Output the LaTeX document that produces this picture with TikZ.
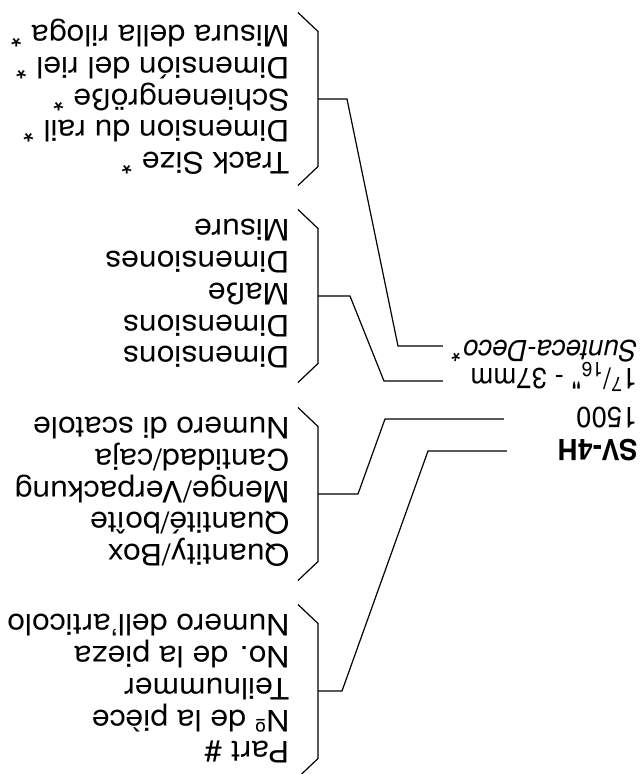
\documentclass[tikz,border=0pt]{standalone}
\usepackage{fontspec}
\setmainfont{TeX Gyre Heros}[FakeStretch=1.08]
\newfontfamily\tagfont{TeX Gyre Heros}[FakeStretch=0.95]
\begin{document}
\begin{tikzpicture}[x=1pt,y=1pt,rotate=180,transform shape,line width=1.2pt,
    every node/.style={inner sep=0pt,font=\fontsize{29.5}{31.75}\selectfont},
    legend/.style={align=left,anchor=west},
    tag/.style={anchor=base west,font=\tagfont\fontsize{29}{31}\selectfont}]
    \useasboundingbox (0,0) rectangle (640,774);
    % the four legends, each with its bracket
    \foreach \n/\m/\lines in {
        size/99/{Track Size *\\Dimension du rail *\\Schienengröße *\\Dimensión del riel *\\Misura della riloga *},
        dim/296/{Dimensions\\Dimensions\\Maße\\Dimensiones\\Misure},
        qty/494/{Quantity/Box\\Quantité/boîte\\Menge/Verpackung\\Cantidad/caja\\Numero di scatole},
        part/691/{Part \#\\Nº de la pièce\\Teilnummer\\No. de la pieza\\Numero dell’articolo}} {
            \node[legend] (\n) at (350,\m-2) {\lines};
            % bracket, open towards the text
            \coordinate (\n-br) at (322,\m);
            \draw (342,\m-86.5) -- (322,\m-67.5) -- (322,\m+67.5) -- (342,\m+86.5);
    }
    % the product tag
    \node[tag] (sv) at (2,439) {\bfseries SV-4H};
    \node[tag] (box) at (2,407) {1500};
    \node[tag] (gauge) at (2,368) {1\textsuperscript{7}/\textsubscript{16}" - 37mm};
    \node[tag] (deco) at (2,340) {\itshape Sunteca-Deco*};
    \coordinate (sv-end) at (133,451);
    \coordinate (box-end) at (136,419);
    \coordinate (gauge-end) at (197,381);
    \coordinate (deco-end) at (197,346);
    % leaders from each bracket to its value
    \draw (size-br) -- ++(-29,0) -- ([xshift=45]deco-end) -- (deco-end);
    \draw (dim-br) -- ++(-32,0) -- ([xshift=59]gauge-end) -- (gauge-end);
    \draw (qty-br) -- ++(-40,0) -- ([xshift=119]box-end) -- (box-end);
    \draw (part-br) -- ++(-24,0) -- ([xshift=79]sv-end) -- (sv-end);
\end{tikzpicture}
\end{document}
